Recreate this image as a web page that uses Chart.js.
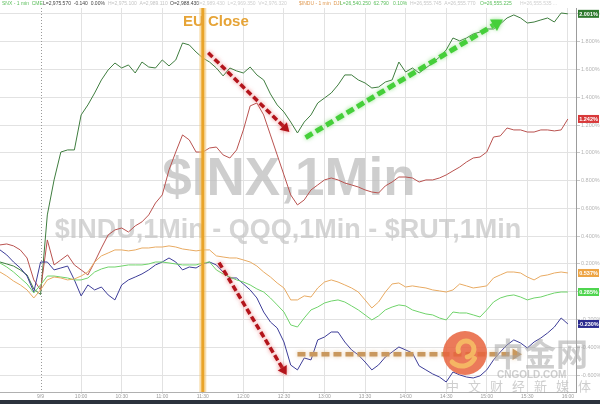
<!DOCTYPE html>
<html>
<head>
<meta charset="utf-8">
<script src="https://cdn.jsdelivr.net/npm/chart.js@4.4.0/dist/chart.umd.min.js"></script>
<style>
  html, body { margin: 0; padding: 0; background: #fff; }
  #wrap { width: 600px; height: 404px; position: relative; overflow: hidden; }
  canvas { display: block; }
  #strip { position: absolute; left: 0; top: 400px; width: 600px; height: 4px; background: #2c323d; }
</style>
</head>
<body>
<div id="wrap">
  <canvas id="chart" width="600" height="400"></canvas>
  <div id="strip"></div>
</div>
<script>
// minutes from the start of the window (5 min bars)
const minutes = [0,5,10,15,20,25,30,35,40,45,50,55,60,65,70,75,80,85,90,95,100,105,110,115,120,125,130,135,140,145,150,155,160,165,170,175,180,185,190,195,200,205,210,215,220,225,230,235,240,245,250,255,260,265,270,275,280,285,290,295,300,305,310,315,320,325,330,335,340,345,350,355,360,365,370,375,380,385,390,395,400,405,410,415,420];

// % change
const darkGreenVals = [0.214,0.200,0.185,0.157,0.121,0.020,-0.020,0.553,0.805,1.006,1.021,1.021,1.273,1.345,1.431,1.525,1.597,1.647,1.611,1.633,1.575,1.654,1.618,1.611,1.669,1.626,1.669,1.791,1.777,1.726,1.683,1.654,1.611,1.554,1.611,1.590,1.575,1.618,1.561,1.525,1.424,1.345,1.294,1.222,1.143,1.222,1.273,1.359,1.395,1.431,1.489,1.561,1.561,1.525,1.503,1.467,1.474,1.510,1.525,1.654,1.582,1.611,1.575,1.611,1.647,1.690,1.741,1.827,1.806,1.827,1.856,1.870,1.892,1.892,1.928,1.971,1.993,1.971,1.935,1.942,1.957,1.971,1.942,2.007,2.001];
const redVals = [0.337,0.344,0.330,0.301,0.243,0.085,0.013,0.373,0.193,0.229,0.265,0.193,0.157,0.121,0.214,0.315,0.409,0.445,0.459,0.430,0.474,0.503,0.553,0.639,0.697,0.877,1.006,1.129,1.093,1.006,1.006,1.035,1.042,0.985,0.963,1.021,1.165,1.338,1.359,1.273,1.129,0.985,0.841,0.697,0.625,0.661,0.733,0.769,0.805,0.819,0.805,0.783,0.769,0.754,0.733,0.718,0.711,0.762,0.790,0.826,0.826,0.819,0.790,0.805,0.805,0.819,0.841,0.870,0.898,0.934,0.963,0.970,1.006,1.114,1.122,1.179,1.165,1.165,1.150,1.150,1.165,1.165,1.158,1.165,1.244];
const orangeVals = [0.142,0.113,0.077,0.049,0.013,-0.045,0.013,0.085,0.106,0.099,0.085,0.092,0.113,0.142,0.214,0.258,0.279,0.301,0.301,0.294,0.301,0.315,0.315,0.322,0.322,0.330,0.322,0.308,0.301,0.294,0.301,0.301,0.258,0.250,0.243,0.243,0.229,0.214,0.185,0.142,0.106,0.063,0.027,-0.059,-0.059,-0.030,-0.038,0.027,0.070,0.085,0.070,0.049,0.027,-0.002,-0.059,-0.117,-0.074,-0.002,0.056,0.063,0.034,0.042,0.034,0.027,0.013,0.006,-0.002,0.013,0.056,0.042,0.027,0.034,0.042,0.099,0.121,0.142,0.142,0.135,0.106,0.085,0.113,0.121,0.135,0.142,0.135];
const lightGreenVals = [0.207,0.178,0.142,0.099,0.056,-0.009,0.049,0.113,0.113,0.106,0.099,0.085,0.085,0.099,0.142,0.164,0.178,0.178,0.185,0.193,0.193,0.193,0.200,0.214,0.214,0.207,0.200,0.193,0.193,0.193,0.207,0.214,0.157,0.128,0.106,0.085,0.070,0.049,0.020,-0.002,-0.045,-0.095,-0.146,-0.239,-0.254,-0.189,-0.131,-0.110,-0.081,-0.067,-0.059,-0.074,-0.102,-0.131,-0.167,-0.203,-0.174,-0.131,-0.110,-0.095,-0.102,-0.131,-0.146,-0.160,-0.167,-0.189,-0.203,-0.146,-0.153,-0.153,-0.167,-0.182,-0.131,-0.074,-0.045,-0.030,-0.023,-0.038,-0.059,-0.045,-0.038,-0.023,-0.009,-0.002,-0.002];
const navyVals = [0.301,0.265,0.214,0.171,0.113,-0.002,0.214,0.214,0.157,0.171,0.185,0.085,-0.030,0.049,0.013,0.034,-0.023,-0.059,0.049,0.085,0.106,0.128,0.157,0.193,0.214,0.243,0.214,0.157,0.178,0.171,0.200,0.214,0.193,0.142,0.099,0.099,0.056,0.013,-0.045,-0.146,-0.218,-0.261,-0.362,-0.528,-0.563,-0.477,-0.491,-0.347,-0.326,-0.290,-0.290,-0.362,-0.419,-0.455,-0.506,-0.563,-0.527,-0.470,-0.434,-0.398,-0.419,-0.441,-0.534,-0.563,-0.592,-0.614,-0.650,-0.578,-0.599,-0.614,-0.621,-0.606,-0.563,-0.491,-0.434,-0.383,-0.347,-0.369,-0.405,-0.362,-0.333,-0.297,-0.254,-0.189,-0.232];

const endLabels = ["2.001%", "1.242%", "0.537%", "0.285%", "-0.230%"];

const xTickTimes = [30,60,90,120,150,180,210,240,270,300,330,360,390,420];
const xTickLabels = ["9/9","10:00","10:30","11:00","11:30","12:00","12:30","13:00","13:30","14:00","14:30","15:00","15:30","16:00"];
const yTickValues = [-0.6,-0.4,-0.2,0,0.2,0.4,0.6,0.8,1.0,1.2,1.4,1.6,1.8,2.0];
const yTickLabels = ["-0.600%","-0.400%","-0.200%","0.000%","0.200%","0.400%","0.600%","0.800%","1.000%","1.200%","1.400%","1.600%","1.800%","2.000%"];

const openTime = 30;
const euCloseTime = 150;
// arrows drawn on the chart: [t1, v1, t2, v2]
const redArrowTop = [154, 1.72, 214, 1.15];
const redArrowLow = [162, 0.21, 212, -0.60];
const greenArrow = [226, 1.11, 372, 1.96];
const tanArrow = [220, -0.45, 386, -0.45];

const lineColors = ["#3f7d3f", "#b9524f", "#e8aa62", "#6fd36a", "#3d3d98"];
const tagColors = ["#2f7a2f", "#d8393a", "#eda444", "#4fd54f", "#2b2b8f"];

function pts(vals) {
  return minutes.map((t, i) => ({ x: t, y: vals[i] }));
}

function drawArrow(ctx, x1, y1, x2, y2, color, glow, w, dash, head) {
  const a = Math.atan2(y2 - y1, x2 - x1);
  const ex = x2 - Math.cos(a) * head * 0.7, ey = y2 - Math.sin(a) * head * 0.7;
  ctx.save();
  ctx.shadowColor = glow; ctx.shadowBlur = 4;
  ctx.strokeStyle = color; ctx.lineWidth = w; ctx.setLineDash(dash);
  ctx.beginPath(); ctx.moveTo(x1, y1); ctx.lineTo(ex, ey); ctx.stroke();
  ctx.setLineDash([]);
  ctx.fillStyle = color;
  ctx.beginPath();
  ctx.moveTo(x2, y2);
  ctx.lineTo(x2 - Math.cos(a - 0.55) * head, y2 - Math.sin(a - 0.55) * head);
  ctx.lineTo(x2 - Math.cos(a + 0.55) * head, y2 - Math.sin(a + 0.55) * head);
  ctx.closePath(); ctx.fill();
  ctx.restore();
}

const decor = {
  id: "decor",
  beforeDatasetsDraw(chart) {
    const { ctx, chartArea: ca, scales: { x, y } } = chart;
    ctx.save();
    // session open dotted line
    const xo = Math.round(x.getPixelForValue(openTime)) + 0.5;
    ctx.strokeStyle = "#9a9a9a"; ctx.lineWidth = 1; ctx.setLineDash([1, 2]);
    ctx.beginPath(); ctx.moveTo(xo, ca.top); ctx.lineTo(xo, ca.bottom); ctx.stroke();
    ctx.setLineDash([]);
    // watermarks
    ctx.textAlign = "center"; ctx.textBaseline = "middle";
    ctx.fillStyle = "rgba(190,190,190,0.75)";
    ctx.font = "bold 53px 'Liberation Sans', Arial, sans-serif";
    ctx.fillText("$INX,1Min", 289, 180);
    ctx.font = "bold 27px 'Liberation Sans', Arial, sans-serif";
    ctx.fillStyle = "rgba(195,195,195,0.7)";
    ctx.fillText("$INDU,1Min - QQQ,1Min - $RUT,1Min", 288, 231);
    ctx.restore();
  },
  afterDatasetsDraw(chart) {
    const { ctx, chartArea: ca, scales: { x, y } } = chart;
    ctx.save();
    // EU close line
    const xe = x.getPixelForValue(euCloseTime);
    ctx.strokeStyle = "rgba(240,195,110,0.55)"; ctx.lineWidth = 7;
    ctx.beginPath(); ctx.moveTo(xe, ca.top); ctx.lineTo(xe, ca.bottom); ctx.stroke();
    ctx.strokeStyle = "#e9a42a"; ctx.lineWidth = 3;
    ctx.beginPath(); ctx.moveTo(xe, ca.top); ctx.lineTo(xe, ca.bottom); ctx.stroke();
    ctx.font = "bold 15px 'Liberation Sans', Arial, sans-serif";
    ctx.fillStyle = "#e6a437"; ctx.textAlign = "center"; ctx.textBaseline = "middle";
    ctx.fillText("EU Close", xe + 13, 22);

    // arrows
    const P = (a) => [x.getPixelForValue(a[0]), y.getPixelForValue(a[1]), x.getPixelForValue(a[2]), y.getPixelForValue(a[3])];
    drawArrow(ctx, ...P(redArrowTop), "#b3141b", "rgba(230,80,80,0.7)", 3.5, [6, 3], 10);
    drawArrow(ctx, ...P(redArrowLow), "#b3141b", "rgba(230,80,80,0.7)", 3.5, [6, 3], 10);
    drawArrow(ctx, ...P(greenArrow), "#45cf3a", "rgba(120,220,110,0.8)", 5, [8, 4], 13);
    drawArrow(ctx, ...P(tanArrow), "#c9985e", "rgba(220,180,130,0.7)", 4.5, [8, 4], 11);

    // cngold logo watermark
    ctx.globalAlpha = 0.85;
    ctx.fillStyle = "#e8633d";
    ctx.beginPath(); ctx.arc(465, 353, 22, 0, Math.PI * 2); ctx.fill();
    ctx.strokeStyle = "#f7c266"; ctx.lineWidth = 5; ctx.lineCap = "round";
    ctx.beginPath(); ctx.arc(466, 349, 8, Math.PI * 0.9, Math.PI * 2.45); ctx.stroke();
    ctx.beginPath(); ctx.arc(462, 352, 14, Math.PI * 0.15, Math.PI * 0.75); ctx.stroke();
    ctx.globalAlpha = 1;
    ctx.fillStyle = "rgba(165,165,165,0.55)";
    ctx.textAlign = "left"; ctx.textBaseline = "alphabetic";
    ctx.font = "bold 32px 'Noto Sans CJK SC', sans-serif";
    ctx.fillText("中金网", 492, 366);
    ctx.font = "bold 10px 'Liberation Sans', Arial, sans-serif";
    ctx.fillText("CNGOLD.COM", 497, 378);
    ctx.font = "13px 'Noto Sans CJK SC', sans-serif";
    ctx.letterSpacing = "9px";
    ctx.fillText("中文财经新媒体", 446, 391);
    ctx.letterSpacing = "0px";
    ctx.restore();
  },
  afterDraw(chart) {
    const { ctx, scales: { y } } = chart;
    ctx.save();
    // last value tags
    const series = [darkGreenVals, redVals, orangeVals, lightGreenVals, navyVals];
    ctx.font = "bold 5.5px 'Liberation Sans', Arial, sans-serif";
    ctx.textAlign = "center"; ctx.textBaseline = "middle";
    series.forEach((vals, i) => {
      const py = y.getPixelForValue(vals[vals.length - 1]);
      ctx.fillStyle = tagColors[i];
      ctx.fillRect(578, py - 4, 21, 8);
      ctx.fillStyle = "#fff";
      ctx.fillText(endLabels[i], 588.5, py + 0.5);
    });
    // header
    ctx.font = "5px 'Liberation Sans', Arial, sans-serif";
    ctx.textAlign = "left";
    const head = [
      ["SNX - 1 min  CME", 2, "#5dbf5d"],
      ["L=2,975.570  -0.140  0.00%", 43, "#444"],
      ["H=2,975.100  A=2,989.110", 108, "#c4c4c4"],
      ["O=2,988.430", 170, "#444"],
      ["H=2,989.430  L=2,969.350  V=2,976.320", 196, "#cfcfcf"],
      ["$INDU - 1 min  DJI", 299, "#e09a52"],
      ["L=26,540.250  62.790   0.10%", 340, "#5dbf5d"],
      ["H=26,555.745  A=26,555.770", 410, "#c8c8c8"],
      ["O=26,555.225", 480, "#5dbf5d"],
      ["H=26,555.535 ...", 520, "#d0d0d0"]
    ];
    head.forEach(([t, px, c]) => { ctx.fillStyle = c; ctx.fillText(t, px, 4); });
    ctx.restore();
  }
};

new Chart(document.getElementById("chart"), {
  type: "line",
  data: {
    datasets: [
      { data: pts(orangeVals), borderColor: lineColors[2] },
      { data: pts(lightGreenVals), borderColor: lineColors[3] },
      { data: pts(navyVals), borderColor: lineColors[4] },
      { data: pts(redVals), borderColor: lineColors[1] },
      { data: pts(darkGreenVals), borderColor: lineColors[0] }
    ].map(d => Object.assign(d, { borderWidth: 1, pointRadius: 0, tension: 0, fill: false }))
  },
  options: {
    responsive: false,
    animation: false,
    layout: { padding: { top: 8, left: 0, right: 0, bottom: 0 } },
    plugins: { legend: { display: false }, tooltip: { enabled: false } },
    scales: {
      x: {
        type: "linear",
        min: 0,
        max: 426,
        afterBuildTicks: (s) => { s.ticks = xTickTimes.map(v => ({ value: v })); },
        afterFit: (s) => { s.height = 8; },
        ticks: {
          autoSkip: false, maxRotation: 0, padding: 0,
          font: { size: 5, family: "'Liberation Sans', Arial, sans-serif" },
          color: "#9a9a9a",
          callback: (v, i) => xTickLabels[i]
        },
        grid: {
          color: (c) => (c.tick && c.tick.value === openTime) ? "rgba(0,0,0,0)" : "#e2e2e2",
          tickLength: 2
        },
        border: { display: true, color: "#b0b0b0" }
      },
      y: {
        position: "right",
        min: -0.722,
        max: 2.043,
        afterBuildTicks: (s) => { s.ticks = yTickValues.map(v => ({ value: v })); },
        afterFit: (s) => { s.width = 24; },
        ticks: {
          autoSkip: false, padding: 1,
          font: { size: 5.5, family: "'Liberation Sans', Arial, sans-serif" },
          color: "#b4b4b4",
          callback: (v, i) => yTickLabels[i]
        },
        grid: { color: "#e2e2e2", tickLength: 4, tickColor: "#c8c8c8" },
        border: { display: true, color: "#9c9c9c" }
      }
    }
  },
  plugins: [decor]
});
</script>
</body>
</html>
